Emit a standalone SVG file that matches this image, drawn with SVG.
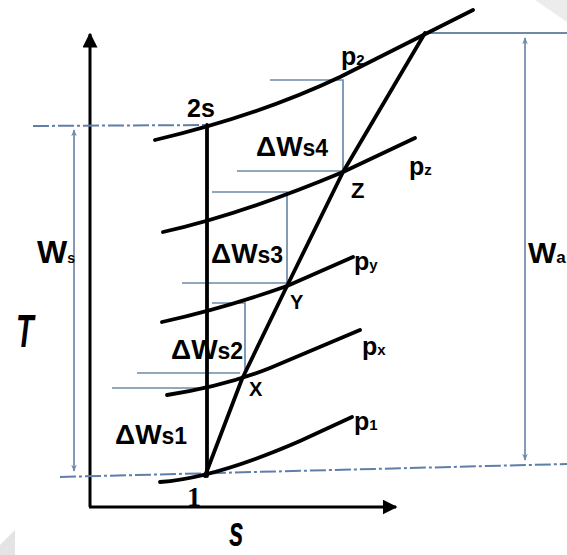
<svg xmlns="http://www.w3.org/2000/svg" width="567" height="555" viewBox="0 0 567 555">
<defs>
<style>
.ax{stroke:#000;stroke-width:3;fill:none}
.iso{stroke:#000;stroke-width:3.8;fill:none;stroke-linecap:round;stroke-linejoin:round}
.thin{stroke:#6f8aa8;stroke-width:1.7;fill:none}
.dash{stroke:#5f7fa6;stroke-width:2;fill:none;stroke-dasharray:16 3 3 3}
.lbl{font-family:"Liberation Sans",Arial,sans-serif;font-weight:bold;fill:#000}
</style>
<marker id="ah" viewBox="0 0 10 10" refX="9" refY="5" markerWidth="5" markerHeight="5" orient="auto-start-reverse">
<path d="M0,0 L10,5 L0,10 z" fill="#000"/>
</marker>
<marker id="bh" viewBox="0 0 10 10" refX="9" refY="5" markerWidth="7" markerHeight="7" orient="auto-start-reverse" markerUnits="userSpaceOnUse">
<path d="M0,1 L10,5 L0,9 L3,5 z" fill="#6f8aa8"/>
</marker>
</defs>
<rect width="567" height="555" fill="#fff"/>
<polygon points="0,545 15,530 15,555 0,555" fill="#e4e4e4"/>
<polygon points="535,0 567,0 567,22" fill="#ececec"/>

<g id="axes">
<path class="ax" d="M90,507 L90,34" marker-end="url(#ah)"/>
<path class="ax" d="M89,507 L396,507" marker-end="url(#ah)"/>
<text class="lbl" font-style="italic" font-size="36" transform="translate(16,347) scale(0.8,1.3)">T</text>
<text class="lbl" font-style="italic" font-size="32" transform="translate(229,546) scale(0.82,1.3)">s</text>
</g>

<g id="connectors">
<path class="dash" d="M33,126 L207,125"/>
<path class="dash" d="M60,477 L567,464"/>
<path class="thin" d="M425,33 L567,33" style="stroke-width:2"/>
<path class="thin" d="M74,130 L74,471" marker-start="url(#bh)" marker-end="url(#bh)"/>
<path class="thin" d="M525,38 L525,460" marker-start="url(#bh)" marker-end="url(#bh)"/>
<path class="thin" d="M270,80 L343,80 L343,172 M237,171 L343,171"/>
<path class="thin" d="M212,192 L287,192 L287,286 M182,283 L287,283"/>
<path class="thin" d="M212,303 L245,303 L245,378 M137,373 L240,373"/>
<path class="thin" d="M112,388 L207,388"/>
</g>

<g id="isobar-p2">
<path class="iso" d="M155,140 Q260,115 340,77 L473,10"/>
<text class="lbl" x="341" y="65" font-size="25">p<tspan font-size="15">2</tspan></text>
</g>
<g id="isobar-pz">
<path class="iso" d="M163,232 Q240,215 343,172 L415,138"/>
<text class="lbl" x="409" y="175" font-size="25">p<tspan font-size="15">z</tspan></text>
</g>
<g id="isobar-py">
<path class="iso" d="M162,322 Q225,308 287,286 L353,257"/>
<text class="lbl" x="354" y="270" font-size="25">p<tspan font-size="15">y</tspan></text>
</g>
<g id="isobar-px">
<path class="iso" d="M167,395 Q225,386 270,368 L360,330"/>
<text class="lbl" x="362" y="355" font-size="25">p<tspan font-size="15">x</tspan></text>
</g>
<g id="isobar-p1">
<path class="iso" d="M160,482 Q215,478 300,441 L352,417"/>
<text class="lbl" x="354" y="430" font-size="25">p<tspan font-size="15">1</tspan></text>
</g>

<g id="isentrope">
<path class="iso" d="M207,125 L207,476"/>
<text class="lbl" x="187" y="117" font-size="25">2s</text>
<text x="187" y="506" font-family="Liberation Serif,serif" font-weight="bold" font-size="28">1</text>
</g>

<g id="process">
<path class="iso" d="M205,476 L242,379 L287,286 L343,172 L425,33"/>
<text class="lbl" x="351" y="198" font-size="22">Z</text>
<text class="lbl" x="290" y="309" font-size="20">Y</text>
<text class="lbl" x="249" y="396" font-size="20">X</text>
</g>

<g id="work-labels">
<text class="lbl" x="256" y="156" font-size="28">ΔW<tspan font-size="23">s4</tspan></text>
<text class="lbl" x="211" y="263" font-size="28">ΔW<tspan font-size="23">s3</tspan></text>
<text class="lbl" x="171" y="359" font-size="28">ΔW<tspan font-size="23">s2</tspan></text>
<text class="lbl" x="115" y="444" font-size="28">ΔW<tspan font-size="23">s1</tspan></text>
<text class="lbl" x="37" y="263" font-size="32">W<tspan font-size="14">s</tspan></text>
<text class="lbl" x="528" y="263" font-size="30">W<tspan font-size="17">a</tspan></text>
</g>
</svg>
